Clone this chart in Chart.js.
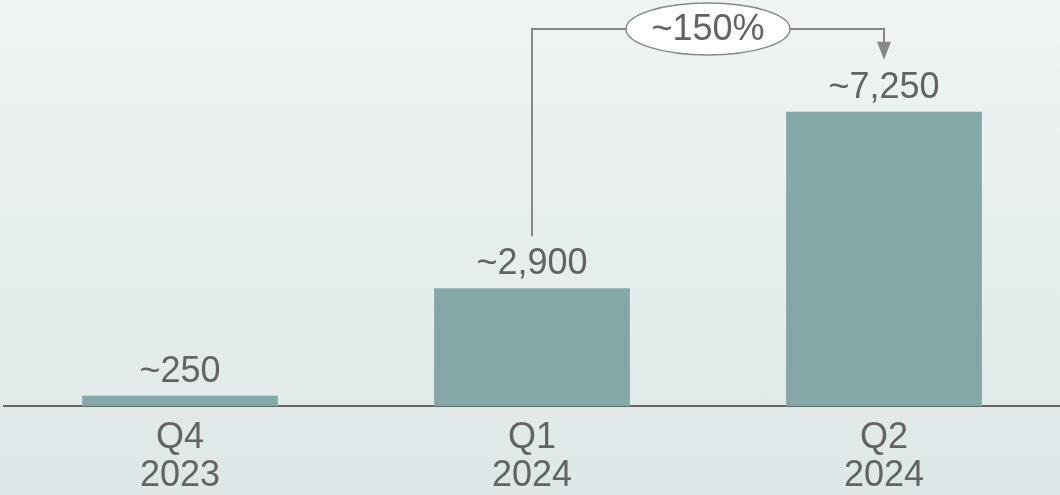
<!DOCTYPE html>
<html>
<head>
<meta charset="utf-8">
<script src="https://cdn.jsdelivr.net/npm/chart.js@4/dist/chart.umd.min.js"></script>
<style>
  html, body { margin: 0; padding: 0; }
  body {
    width: 1060px; height: 495px; overflow: hidden;
    background: linear-gradient(to bottom, #eff4f4, #dee7e7);
  }
  #wrap { width: 1060px; height: 495px; }
</style>
</head>
<body>
<div id="wrap"><canvas id="chart"></canvas></div>
<script>
// datos del gráfico
const quarters = ['Q4', 'Q1', 'Q2'];
const years = ['2023', '2024', '2024'];
const values = [250, 2900, 7250];

const barColor = '#84a8a7';
const textColor = '#636363';
const lineColor = '#888888';
const fontFamily = '"Liberation Sans", Arial, sans-serif';

// etiquetas encima de las barras y flecha de crecimiento
const annotations = {
    id: 'annotations',
    afterDatasetsDraw(chart) {
        const ctx = chart.ctx;
        const bars = chart.getDatasetMeta(0).data;
        ctx.save();
        ctx.font = '36px ' + fontFamily;
        ctx.fillStyle = textColor;
        ctx.textAlign = 'center';
        ctx.textBaseline = 'alphabetic';
        bars.forEach((bar, i) => {
            ctx.fillText('~' + values[i].toLocaleString('en-US'), bar.x, bar.y - 14);
        });

        // conector Q1 -> Q2
        const a = bars[1], b = bars[2];
        const topY = 29;
        const midX = (a.x + b.x) / 2;
        ctx.strokeStyle = lineColor;
        ctx.lineWidth = 2;
        ctx.beginPath();
        ctx.moveTo(a.x, a.y - 52);
        ctx.lineTo(a.x, topY);
        ctx.lineTo(b.x, topY);
        ctx.lineTo(b.x, b.y - 69);
        ctx.stroke();
        ctx.fillStyle = lineColor;
        ctx.beginPath();
        ctx.moveTo(b.x - 7, b.y - 70);
        ctx.lineTo(b.x + 7, b.y - 70);
        ctx.lineTo(b.x, b.y - 52);
        ctx.closePath();
        ctx.fill();

        ctx.beginPath();
        ctx.ellipse(midX, topY, 82, 26, 0, 0, Math.PI * 2);
        ctx.fillStyle = '#ffffff';
        ctx.fill();
        ctx.lineWidth = 1.5;
        ctx.stroke();

        const growth = Math.round((values[2] - values[1]) / values[1] * 10) * 10;
        ctx.fillStyle = textColor;
        ctx.textBaseline = 'middle';
        ctx.fillText('~' + growth + '%', midX, topY + 1);
        ctx.restore();
    }
};

const ctx = document.getElementById('chart').getContext('2d');
new Chart(ctx, {
    type: 'bar',
    data: {
        labels: quarters.map((q, i) => [q, years[i]]),
        datasets: [{
            data: values,
            backgroundColor: barColor,
            borderWidth: 0,
            barPercentage: 0.556,
            categoryPercentage: 1
        }]
    },
    options: {
        responsive: true,
        maintainAspectRatio: false,
        animation: false,
        layout: { padding: { left: 4, right: -3, top: 0, bottom: 0 } },
        plugins: {
            legend: { display: false },
            tooltip: { enabled: false }
        },
        scales: {
            y: {
                display: false,
                min: 0,
                max: 10000
            },
            x: {
                grid: { display: false, drawTicks: false },
                border: { display: true, color: '#666666', width: 2 },
                ticks: {
                    color: textColor,
                    font: { size: 36, family: fontFamily, lineHeight: 1.06 },
                    padding: 13,
                    maxRotation: 0
                },
                afterFit: (scale) => { scale.height = 89; }
            }
        }
    },
    plugins: [annotations]
});
</script>
</body>
</html>
